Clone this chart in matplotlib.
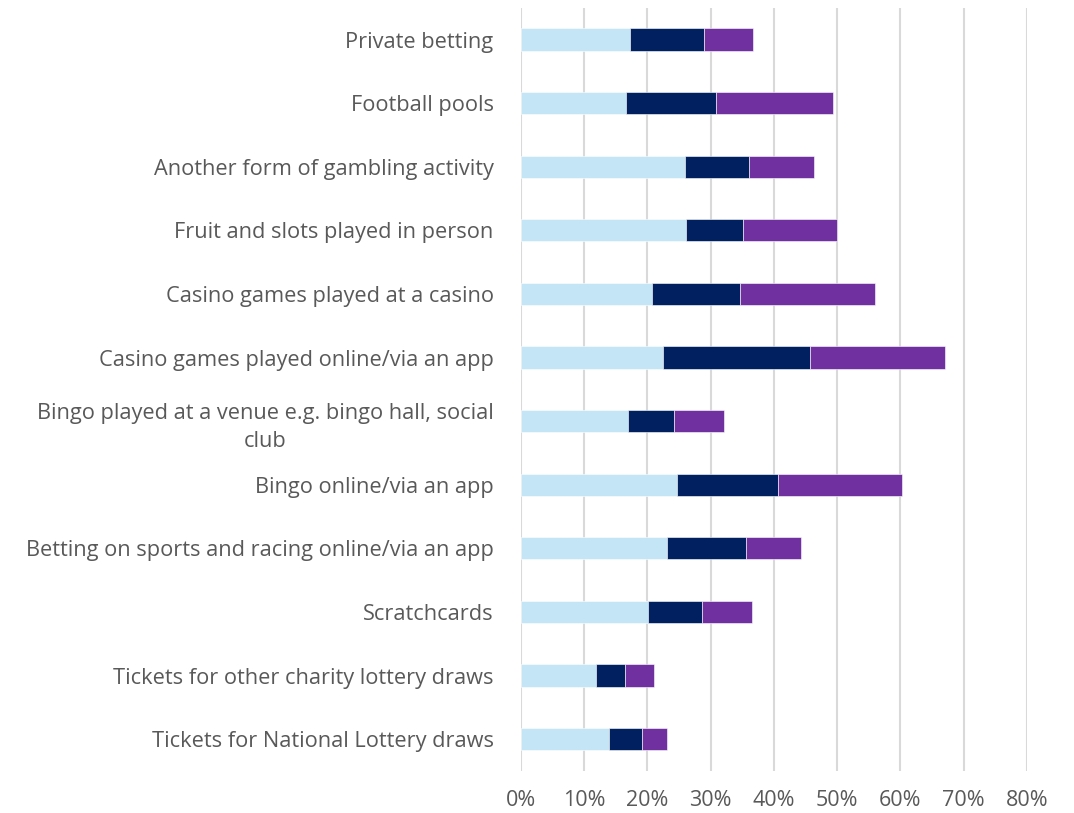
import matplotlib
matplotlib.use("Agg")
import matplotlib.pyplot as plt
from matplotlib.ticker import PercentFormatter

# Gambling activities, listed bottom to top as drawn
activities = [
    "Tickets for National Lottery draws",
    "Tickets for other charity lottery draws",
    "Scratchcards",
    "Betting on sports and racing online/via an app",
    "Bingo online/via an app",
    "Bingo played at a venue e.g. bingo hall, social\nclub",
    "Casino games played online/via an app",
    "Casino games played at a casino",
    "Fruit and slots played in person",
    "Another form of gambling activity",
    "Football pools",
    "Private betting",
]

# Stacked segment values (percent)
series_a = [13.9, 11.9, 20.1, 23.1, 24.7, 17.0, 22.5, 20.8, 26.1, 26.0, 16.6, 17.3]
series_b = [5.3, 4.6, 8.6, 12.5, 15.9, 7.2, 23.2, 13.8, 9.0, 10.1, 14.3, 11.6]
series_c = [3.9, 4.6, 7.8, 8.7, 19.6, 8.0, 21.3, 21.4, 14.9, 10.3, 18.4, 7.8]

x_ticks = [0, 10, 20, 30, 40, 50, 60, 70, 80]

colors = ["#c3e5f5", "#00205f", "#7030a0"]
text_color = "#595959"
font = ["Open Sans", "DejaVu Sans"]

fig = plt.figure(figsize=(10.74, 8.13), dpi=100)
ax = fig.add_axes([0.4848, 0.0517, 0.4714, 0.9388])

y = list(range(len(activities)))
left = [0.0] * len(activities)
for vals, col in zip([series_a, series_b, series_c], colors):
    ax.barh(y, vals, left=left, height=0.35, color=col, edgecolor="white",
            linewidth=0.4, zorder=3)
    left = [l + v for l, v in zip(left, vals)]

ax.set_xlim(0, 80)
ax.set_ylim(-0.5, len(activities) - 0.5)
ax.set_xticks(x_ticks)
ax.xaxis.set_major_formatter(PercentFormatter(decimals=0))
ax.set_yticks(y)
ax.set_yticklabels(activities)

for lbl in ax.get_yticklabels():
    lbl.set_family(font)
    lbl.set_fontsize(15.7)
    lbl.set_color(text_color)
    lbl.set_multialignment("center")
    lbl.set_linespacing(1.45)
for lbl in ax.get_xticklabels():
    lbl.set_family(font)
    lbl.set_fontsize(15.5)
    lbl.set_color(text_color)

ax.tick_params(axis="y", length=0, pad=19.5)
ax.tick_params(axis="x", length=0, pad=14)
ax.grid(axis="x", color="#d9d9d9", linewidth=1.5, zorder=0)
ax.set_axisbelow(True)
for s in ax.spines.values():
    s.set_visible(False)

fig.savefig("out.png", dpi=100)
